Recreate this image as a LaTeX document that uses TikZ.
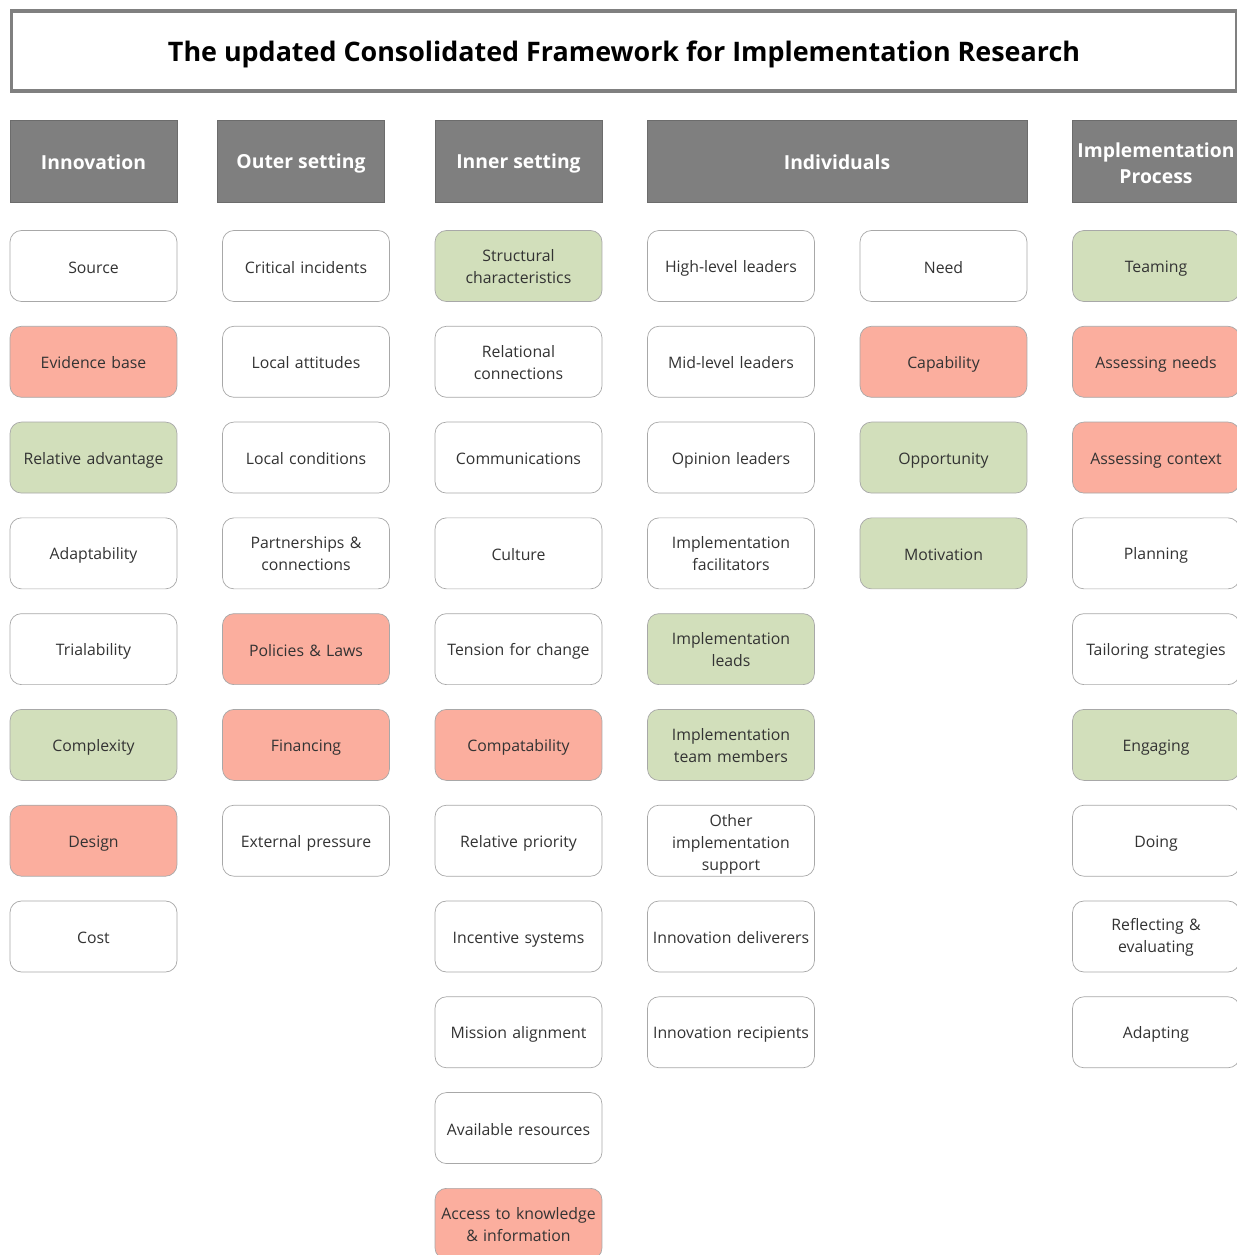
\documentclass[tikz,border=0pt]{standalone}
\usepackage{fontspec}
\setmainfont{Open Sans}
\usetikzlibrary{positioning}
\definecolor{hdrgray}{HTML}{7F7F7F}
\definecolor{boxgreen}{HTML}{D2DFBB}
\definecolor{boxred}{HTML}{FBAE9E}
\definecolor{edgegray}{HTML}{A8A8A8}
\definecolor{txtgray}{HTML}{333333}
\newcommand\boxstrut{\rule[-1.4pt]{0pt}{11pt}}
\newcommand\headstrut{\rule[-1.7pt]{0pt}{13.3pt}}
\newcommand\titlestrut{\rule[-1.4pt]{0pt}{16.6pt}}
\tikzset{
 item/.style={draw=edgegray,fill=white,rounded corners=6.5pt,align=center,minimum height=1.42cm,
             minimum width=3.34cm,text width=3.22cm,inner sep=0pt,text=txtgray,
             font=\fontsize{9}{12.5}\selectfont,execute at begin node=\boxstrut},
 itemg/.style={item,fill=boxgreen},
 itemr/.style={item,fill=boxred},
 multi/.code={\def\boxstrut{\rule{0pt}{#1}}},
 multi/.default=7.6pt,
 head/.style={fill=hdrgray,draw=hdrgray!85!black,minimum height=1.64cm,minimum width=3.34cm,
             align=center,text=white,inner sep=0pt,font=\bfseries\fontsize{11}{14.5}\selectfont},
 titlebox/.style={draw=gray,line width=1.8pt,fill=white,minimum height=1.6cm,minimum width=24.5cm,
             font=\bfseries\fontsize{15.3}{18}\selectfont}
}

\begin{document}
\begin{tikzpicture}[x=0.02cm,y=-0.02cm,node distance=0.482cm]
\clip (0,0) rectangle (1237,1255);
\fill[white] (0,0) rectangle (1237,1255);
\node[titlebox] (title) at (624,51) {\titlestrut The updated Consolidated Framework for Implementation Research};

% column headers
\node[head] (hinno) at (93.5,161) {\headstrut Innovation};
\node[head] (houter) at (301,161) {\headstrut Outer setting};
\node[head] (hinner) at (518.5,161) {\headstrut Inner setting};
\node[head,minimum width=7.6cm] (hindiv) at (837,161) {\headstrut Individuals};
\node[head] (hproc) at (1156,161) {\rule{0pt}{11pt}Implementation\\Process};

% innovation
\node[item] (source) at (93.5,266) {Source};
\node[itemr,below=of source] (evidence) {Evidence base};
\node[itemg,below=of evidence] (advantage) {Relative advantage};
\node[item,below=of advantage] (adapt) {Adaptability};
\node[item,below=of adapt] (trial) {Trialability};
\node[itemg,below=of trial] (complex) {Complexity};
\node[itemr,below=of complex] (design) {Design};
\node[item,below=of design] (cost) {Cost};

% outer setting
\node[item] (critical) at (306,266) {Critical incidents};
\node[item,below=of critical] (attitudes) {Local attitudes};
\node[item,below=of attitudes] (conditions) {Local conditions};
\node[item,multi,below=of conditions] (partner) {Partnerships \&\\connections};
\node[itemr,below=of partner] (policies) {Policies \& Laws};
\node[itemr,below=of policies] (financing) {Financing};
\node[item,below=of financing] (pressure) {External pressure};

% inner setting
\node[itemg,multi] (structural) at (518.5,266) {Structural\\characteristics};
\node[item,multi,below=of structural] (relational) {Relational\\connections};
\node[item,below=of relational] (comms) {Communications};
\node[item,below=of comms] (culture) {Culture};
\node[item,below=of culture] (tension) {Tension for change};
\node[itemr,below=of tension] (compat) {Compatability};
\node[item,below=of compat] (priority) {Relative priority};
\node[item,below=of priority] (incentive) {Incentive systems};
\node[item,below=of incentive] (mission) {Mission alignment};
\node[item,below=of mission] (resources) {Available resources};
\node[itemr,multi,below=of resources] (access) {Access to knowledge\\\& information};

% individuals: roles
\node[item] (highlead) at (731,266) {High-level leaders};
\node[item,below=of highlead] (midlead) {Mid-level leaders};
\node[item,below=of midlead] (opinion) {Opinion leaders};
\node[item,multi,below=of opinion] (facil) {Implementation\\facilitators};
\node[itemg,multi,below=of facil] (implead) {Implementation\\leads};
\node[itemg,multi,below=of implead] (team) {Implementation\\team members};
\node[item,multi=11pt,below=of team] (support) {Other\\implementation\\support};
\node[item,below=of support] (deliver) {Innovation deliverers};
\node[item,below=of deliver] (recip) {Innovation recipients};

% individuals: characteristics
\node[item] (need) at (943.5,266) {Need};
\node[itemr,below=of need] (capab) {Capability};
\node[itemg,below=of capab] (opport) {Opportunity};
\node[itemg,below=of opport] (motiv) {Motivation};

% process
\node[itemg] (teaming) at (1156,266) {Teaming};
\node[itemr,below=of teaming] (needs) {Assessing needs};
\node[itemr,below=of needs] (context) {Assessing context};
\node[item,below=of context] (planning) {Planning};
\node[item,below=of planning] (tailor) {Tailoring strategies};
\node[itemg,below=of tailor] (engaging) {Engaging};
\node[item,below=of engaging] (doing) {Doing};
\node[item,multi,below=of doing] (reflect) {Reflecting \&\\evaluating};
\node[item,below=of reflect] (adapting) {Adapting};
\end{tikzpicture}
\end{document}
